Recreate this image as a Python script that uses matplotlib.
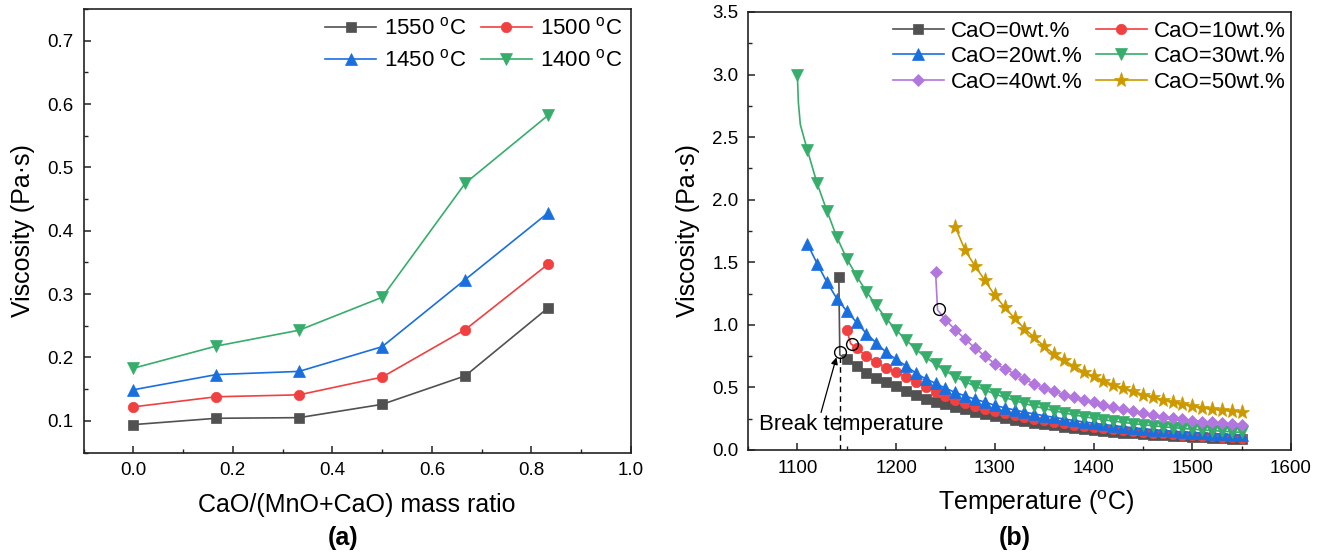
import matplotlib
matplotlib.use("Agg")
import matplotlib.pyplot as plt
from matplotlib.ticker import MultipleLocator, FormatStrFormatter

plt.rcParams['font.family'] = ['Liberation Sans', 'DejaVu Sans']
plt.rcParams['mathtext.fontset'] = 'custom'
plt.rcParams['mathtext.rm'] = 'Liberation Sans'

# ---------------- Panel (a) data ----------------
ratio = [0.0, 0.167, 0.333, 0.5, 0.667, 0.833]
v1550 = [0.094, 0.104, 0.105, 0.126, 0.171, 0.278]
v1500 = [0.122, 0.138, 0.141, 0.169, 0.244, 0.347]
v1450 = [0.149, 0.173, 0.178, 0.217, 0.323, 0.428]
v1400 = [0.183, 0.218, 0.243, 0.295, 0.475, 0.582]
labels_a = [r'1550 $^{\rm o}$C', r'1500 $^{\rm o}$C', r'1450 $^{\rm o}$C', r'1400 $^{\rm o}$C']

# ---------------- Panel (b) data ----------------
temps = [1100, 1110, 1120, 1130, 1140, 1150, 1160, 1170, 1180, 1190,
         1200, 1210, 1220, 1230, 1240, 1250, 1260, 1270, 1280, 1290,
         1300, 1310, 1320, 1330, 1340, 1350, 1360, 1370, 1380, 1390,
         1400, 1410, 1420, 1430, 1440, 1450, 1460, 1470, 1480, 1490,
         1500, 1510, 1520, 1530, 1540, 1550]

# first (liquidus) point and break-segment points, then regular grid values
cao0_head_t = [1142, 1143]
cao0_head_v = [1.38, 0.76]
cao0_grid = [0.725, 0.672, 0.618, 0.578, 0.543, 0.510, 0.472, 0.440, 0.410, 0.385,
             0.365, 0.345, 0.325, 0.305, 0.288, 0.272, 0.257, 0.243, 0.230, 0.218,
             0.207, 0.196, 0.186, 0.177, 0.168, 0.160, 0.153, 0.146, 0.139, 0.133,
             0.127, 0.122, 0.117, 0.112, 0.108, 0.104, 0.100, 0.097, 0.094, 0.091,
             0.088]

cao10_head_t = [1150, 1154]
cao10_head_v = [0.96, 0.85]
cao10_grid = [0.815, 0.750, 0.700, 0.658, 0.622, 0.585, 0.545, 0.505, 0.467,
              0.435, 0.402, 0.377, 0.355, 0.330,
              0.312, 0.295, 0.279, 0.264, 0.250, 0.237, 0.225, 0.213, 0.203, 0.193,
              0.183, 0.175, 0.167, 0.159, 0.152, 0.145, 0.139, 0.133, 0.127, 0.122,
              0.117, 0.112, 0.108, 0.104, 0.100, 0.097]

cao20_head_t = []
cao20_head_v = []
cao20_grid = [1.65, 1.49, 1.34, 1.21, 1.11, 1.02, 0.93, 0.855, 0.78,
              0.725, 0.672, 0.615, 0.568, 0.533, 0.493, 0.460, 0.432, 0.405, 0.383,
              0.357, 0.337, 0.320, 0.303, 0.288, 0.274, 0.261, 0.248, 0.236, 0.225,
              0.214, 0.204, 0.195, 0.186, 0.178, 0.170, 0.163, 0.156, 0.150, 0.144,
              0.139, 0.134, 0.129, 0.125, 0.121, 0.117]

cao30_head_t = [1100, 1101, 1103]
cao30_head_v = [3.00, 2.78, 2.60]
cao30_grid = [2.40, 2.13, 1.91, 1.70, 1.53, 1.39, 1.265, 1.155, 1.05,
              0.96, 0.88, 0.805, 0.74, 0.685, 0.632, 0.585, 0.545, 0.51, 0.478,
              0.448, 0.42, 0.395, 0.372, 0.351, 0.332, 0.314, 0.297, 0.281, 0.267,
              0.254, 0.242, 0.231, 0.221, 0.211, 0.202, 0.194, 0.186, 0.179, 0.172,
              0.166, 0.160, 0.155, 0.150, 0.145, 0.141]

cao40_head_t = [1240, 1242]
cao40_head_v = [1.42, 1.12]
cao40_grid = [1.04, 0.96, 0.885, 0.815, 0.75,
              0.69, 0.65, 0.608, 0.565, 0.527, 0.497, 0.468, 0.442, 0.42, 0.40,
              0.38, 0.361, 0.342, 0.324, 0.308, 0.294, 0.28, 0.267, 0.255, 0.244,
              0.235, 0.227, 0.22, 0.214, 0.208, 0.203]

cao50_head_t = []
cao50_head_v = []
cao50_grid = [1.78, 1.595, 1.47, 1.355,
              1.235, 1.14, 1.053, 0.97, 0.90, 0.828, 0.767, 0.716, 0.672, 0.625,
              0.588, 0.555, 0.52, 0.495, 0.47, 0.443, 0.422, 0.402, 0.385, 0.368,
              0.353, 0.338, 0.326, 0.318, 0.311, 0.305]

labels_b = ['CaO=0wt.%', 'CaO=10wt.%', 'CaO=20wt.%', 'CaO=30wt.%', 'CaO=40wt.%', 'CaO=50wt.%']

break_t = [1143, 1155, 1243]
break_v = [0.78, 0.848, 1.125]

colors = ['#515151', '#F14040', '#1A6FDF', '#37AD6B', '#B177DE', '#CC9900']

fig = plt.figure(figsize=(13.18, 5.54), dpi=100)
W, H = 1318.0, 554.0
axa = fig.add_axes([83.5 / W, (H - 452.5) / H, 547.5 / W, 443.5 / H])
axb = fig.add_axes([748 / W, (H - 450) / H, 543 / W, 438 / H])

tick_fs = 13.5
lab_fs = 18
leg_fs = 16


def style_axes(ax):
    for s in ax.spines.values():
        s.set_linewidth(1.2)
        s.set_color('#222222')
    ax.tick_params(which='both', direction='in', top=False, right=False,
                   labelsize=tick_fs, pad=7, color='#222222')
    ax.tick_params(which='major', length=5.3, width=1.1)
    ax.tick_params(which='minor', length=3.0, width=1.0)


def row_major(handles, labels, ncol):
    nrow = (len(handles) + ncol - 1) // ncol
    order = [r * ncol + c for c in range(ncol) for r in range(nrow) if r * ncol + c < len(handles)]
    return [handles[i] for i in order], [labels[i] for i in order]


# ---------------- Panel (a) ----------------
series_a = [(v1550, 's', 6.5), (v1500, 'o', 7.5), (v1450, '^', 8.5), (v1400, 'v', 8.5)]
for (vals, mk, ms), c, lab in zip(series_a, colors[:4], labels_a):
    axa.plot(ratio, vals, '-', color=c, lw=1.2, marker=mk, ms=ms, mfc=c, mec=c,
             mew=0.5, label=lab)

axa.set_xlim(-0.1, 1.0)
axa.set_ylim(0.05, 0.75)
axa.xaxis.set_major_locator(MultipleLocator(0.2))
axa.xaxis.set_minor_locator(MultipleLocator(0.1))
axa.yaxis.set_major_locator(MultipleLocator(0.1))
axa.yaxis.set_minor_locator(MultipleLocator(0.05))
axa.xaxis.set_major_formatter(FormatStrFormatter('%.1f'))
axa.yaxis.set_major_formatter(FormatStrFormatter('%.1f'))
style_axes(axa)
axa.set_xlabel('CaO/(MnO+CaO) mass ratio', fontsize=lab_fs, labelpad=10)
axa.set_ylabel('Viscosity (Pa·s)', fontsize=lab_fs, labelpad=9)
ha_, la_ = row_major(*axa.get_legend_handles_labels(), 2)
axa.legend(ha_, la_, loc='upper right', ncol=2, frameon=False, fontsize=leg_fs,
           handlelength=2.3, handletextpad=0.35, columnspacing=0.65,
           labelspacing=0.45, borderaxespad=0.2, borderpad=0.2)

# ---------------- Panel (b) ----------------
series_b = [
    (cao0_head_t, cao0_head_v, cao0_grid, 's', 6.5),
    (cao10_head_t, cao10_head_v, cao10_grid, 'o', 7.5),
    (cao20_head_t, cao20_head_v, cao20_grid, '^', 8.5),
    (cao30_head_t, cao30_head_v, cao30_grid, 'v', 8.5),
    (cao40_head_t, cao40_head_v, cao40_grid, 'D', 6.5),
    (cao50_head_t, cao50_head_v, cao50_grid, '*', 11),
]
for (ht, hv, grid, mk, ms), c, lab in zip(series_b, colors, labels_b):
    gt = temps[len(temps) - len(grid):]
    t = list(ht) + list(gt)
    v = list(hv) + list(grid)
    nhead = len(ht)
    marks = ([0] if nhead > 0 else []) + list(range(nhead, len(t)))
    axb.plot(t, v, '-', color=c, lw=1.2, marker=mk, ms=ms, mfc=c, mec=c,
             mew=0.5, markevery=marks, label=lab)

axb.plot(break_t, break_v, 'o', ls='none', ms=8.5, mfc='none', mec='black', mew=1.0)
axb.plot([break_t[0], break_t[0]], [0, 0.74], ls=(0, (4, 3)), color='black', lw=1.0)
axb.annotate('', xy=(1139.5, 0.74), xytext=(1124, 0.30),
             arrowprops=dict(arrowstyle='-|>', color='black', lw=0.9,
                             mutation_scale=10, shrinkA=0, shrinkB=0))
axb.text(1061, 0.16, 'Break temperature', fontsize=16, va='baseline', ha='left')

axb.set_xlim(1050, 1600)
axb.set_ylim(0, 3.5)
axb.xaxis.set_major_locator(MultipleLocator(100))
axb.xaxis.set_minor_locator(MultipleLocator(50))
axb.yaxis.set_major_locator(MultipleLocator(0.5))
axb.yaxis.set_minor_locator(MultipleLocator(0.25))
axb.yaxis.set_major_formatter(FormatStrFormatter('%.1f'))
style_axes(axb)
axb.set_xlabel(r'Temperature ($^{\rm o}$C)', fontsize=lab_fs)
axb.xaxis.set_label_coords(0.53, -0.088)
axb.set_ylabel('Viscosity (Pa·s)', fontsize=lab_fs, labelpad=9)
hb_, lb_ = row_major(*axb.get_legend_handles_labels(), 2)
axb.legend(hb_, lb_, loc='upper right', bbox_to_anchor=(1.0, 0.993), ncol=2,
           frameon=False, fontsize=leg_fs,
           handlelength=2.3, handletextpad=0.3, columnspacing=0.6,
           labelspacing=0.2, borderaxespad=0.05, borderpad=0.2)

fig.text(343 / W, 1 - 538 / H, '(a)', fontsize=18, fontweight='bold', ha='center', va='center')
fig.text(1015 / W, 1 - 538 / H, '(b)', fontsize=18, fontweight='bold', ha='center', va='center')

fig.savefig('out.png', dpi=100)
